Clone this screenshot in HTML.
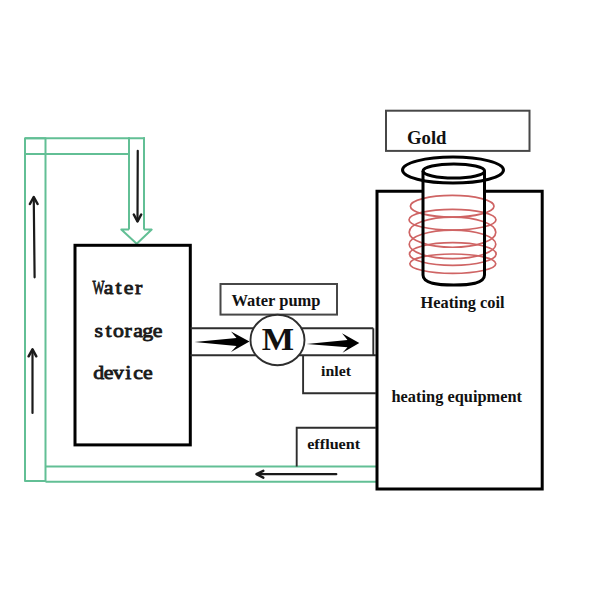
<!DOCTYPE html>
<html>
<head>
<meta charset="utf-8">
<style>
html,body{margin:0;padding:0;background:#fff;width:600px;height:600px;overflow:hidden;}
svg{display:block;}
.serif{font-family:"Liberation Serif",serif;font-weight:bold;fill:#111;font-variant-ligatures:none;}
.mono{font-family:"Liberation Serif",serif;font-weight:normal;fill:#1a1a1a;}
</style>
</head>
<body>
<svg width="600" height="600" viewBox="0 0 600 600">
<rect x="0" y="0" width="600" height="600" fill="#fff"/>

<!-- green pipes -->
<g fill="none" stroke="#62bf95" stroke-width="2" stroke-linejoin="round">
  <rect x="25" y="138.3" width="20.5" height="342.7"/>
  <line x1="25" y1="138.3" x2="145" y2="138.3"/>
  <line x1="25" y1="154" x2="129" y2="154"/>
  <line x1="129" y1="137.3" x2="129" y2="229.6"/>
  <line x1="144" y1="137.3" x2="144" y2="229.6"/>
  <polyline points="129,229.6 121.3,229.6 136.7,243.8 151.7,229.6 144,229.6"/>
  <line x1="45.5" y1="466.5" x2="376.5" y2="466.5"/>
  <line x1="45.5" y1="481.8" x2="376.5" y2="481.8"/>
</g>

<!-- thin black arrows -->
<g fill="none" stroke="#1a1a1a" stroke-width="2.2" stroke-linecap="round" stroke-linejoin="round">
  <line x1="137.75" y1="150.8" x2="137.5" y2="221"/>
  <line x1="34.6" y1="277.3" x2="33.75" y2="197.5"/>
  <line x1="32.5" y1="413" x2="32.5" y2="350"/>
  <line x1="336.3" y1="474.2" x2="257" y2="474.2"/>
</g>
<g fill="none" stroke="#1a1a1a" stroke-width="2.5" stroke-linecap="round" stroke-linejoin="round">
  <polyline points="133.8,214.5 137.5,221.5 141.2,214.5"/>
  <polyline points="29.9,204 33.75,197 37.6,204"/>
  <polyline points="28.6,356.3 32.5,349.3 36.3,356.3"/>
  <polyline points="263.3,470.8 256.5,474.2 263.3,477.6"/>
</g>

<!-- thick black boxes -->
<g fill="none" stroke="#000" stroke-width="3">
  <rect x="75" y="245.3" width="115.3" height="199.6"/>
  <polyline points="423,191.2 377,191.2 377,489 542.2,489 542.2,191.2 484.5,191.2"/>
</g>

<!-- thin grey boxes -->
<g fill="none" stroke="#474747" stroke-width="2">
  <rect x="386" y="110.7" width="143.5" height="40.2"/>
  <rect x="220.5" y="284" width="116.5" height="30.6"/>
</g>
<g fill="none" stroke="#2e2e2e" stroke-width="1.9">
  <line x1="190.5" y1="328.3" x2="373.3" y2="328.3"/>
  <line x1="190.5" y1="355.3" x2="376" y2="355.3"/>
  <line x1="373.3" y1="328.3" x2="373.3" y2="355.3"/>
  <polyline points="303.1,355.3 303.1,393.3 376,393.3"/>
  <polyline points="296.7,466.5 296.7,427.8 376,427.8"/>
</g>
<ellipse cx="277.5" cy="340" rx="27" ry="25.2" fill="#fff" stroke="#2e2e2e" stroke-width="1.9"/>

<!-- thick arrows -->
<g fill="#000">
  <polygon points="194.5,342 236.5,338.1 231,331.4 249.5,341.4 231,352 236.5,345.9"/>
  <polygon points="306.5,343.9 347.5,339.9 342,333.3 359.3,343 342.5,352.7 347.5,347.3"/>
</g>

<!-- coil -->
<g fill="none" stroke="#cf6464" stroke-width="1.7">
  <ellipse cx="452.2" cy="206.2" rx="41.8" ry="10.8"/>
  <ellipse cx="452.5" cy="219.65" rx="43.5" ry="10.35"/>
  <ellipse cx="452.5" cy="232.15" rx="43.3" ry="15.1"/>
  <ellipse cx="452.5" cy="244.35" rx="43.3" ry="14.3"/>
  <ellipse cx="452.8" cy="254" rx="43.3" ry="11.3"/>
  <ellipse cx="452.8" cy="263.65" rx="43" ry="9.65"/>
</g>

<!-- cylinder -->
<g fill="none" stroke="#000" stroke-width="3">
  <ellipse cx="453" cy="170.1" rx="50.5" ry="13"/>
  <ellipse cx="453.8" cy="171" rx="30.8" ry="7"/>
  <path d="M423,171 L423,275 C423,283.5 438,285 453.7,285 C469.5,285 484.5,283.5 484.5,275 L484.5,171"/>
</g>

<!-- texts -->
<text class="serif" x="407" y="144.2" font-size="18.5" textLength="39.5" lengthAdjust="spacingAndGlyphs">Gold</text>
<text class="serif" x="231.5" y="305.5" font-size="16.3" textLength="89" lengthAdjust="spacingAndGlyphs">Water pump</text>
<text class="serif" x="261.8" y="350.2" font-size="32" textLength="32.3" lengthAdjust="spacingAndGlyphs">M</text>
<text class="serif" x="321" y="375.8" font-size="15.5" textLength="30" lengthAdjust="spacingAndGlyphs">inlet</text>
<text class="serif" x="307.2" y="449.2" font-size="15.5" textLength="53" lengthAdjust="spacingAndGlyphs">effluent</text>
<text class="serif" x="420.5" y="307.8" font-size="16.3" textLength="84" lengthAdjust="spacingAndGlyphs">Heating coil</text>
<text class="serif" x="391.5" y="401.8" font-size="16" textLength="130.5" lengthAdjust="spacingAndGlyphs">heating equipment</text>
<g class="mono" font-size="19.5" text-anchor="middle" stroke="#1a1a1a" stroke-width="0.85" transform="scale(1.12,1)">
<text x="0" y="293.7" transform="translate(87.95,0) scale(0.58,1)">W</text>
<text x="96.92 105.89 114.87 123.84" y="293.7">ater</text>
<text x="88.21 96.96 105.71 114.46 123.21 131.96 140.71" y="337.2">storage</text>
<text x="88.21 96.96 105.71 114.46 123.21 131.96" y="379.3">device</text>
</g>
</svg>
</body>
</html>
